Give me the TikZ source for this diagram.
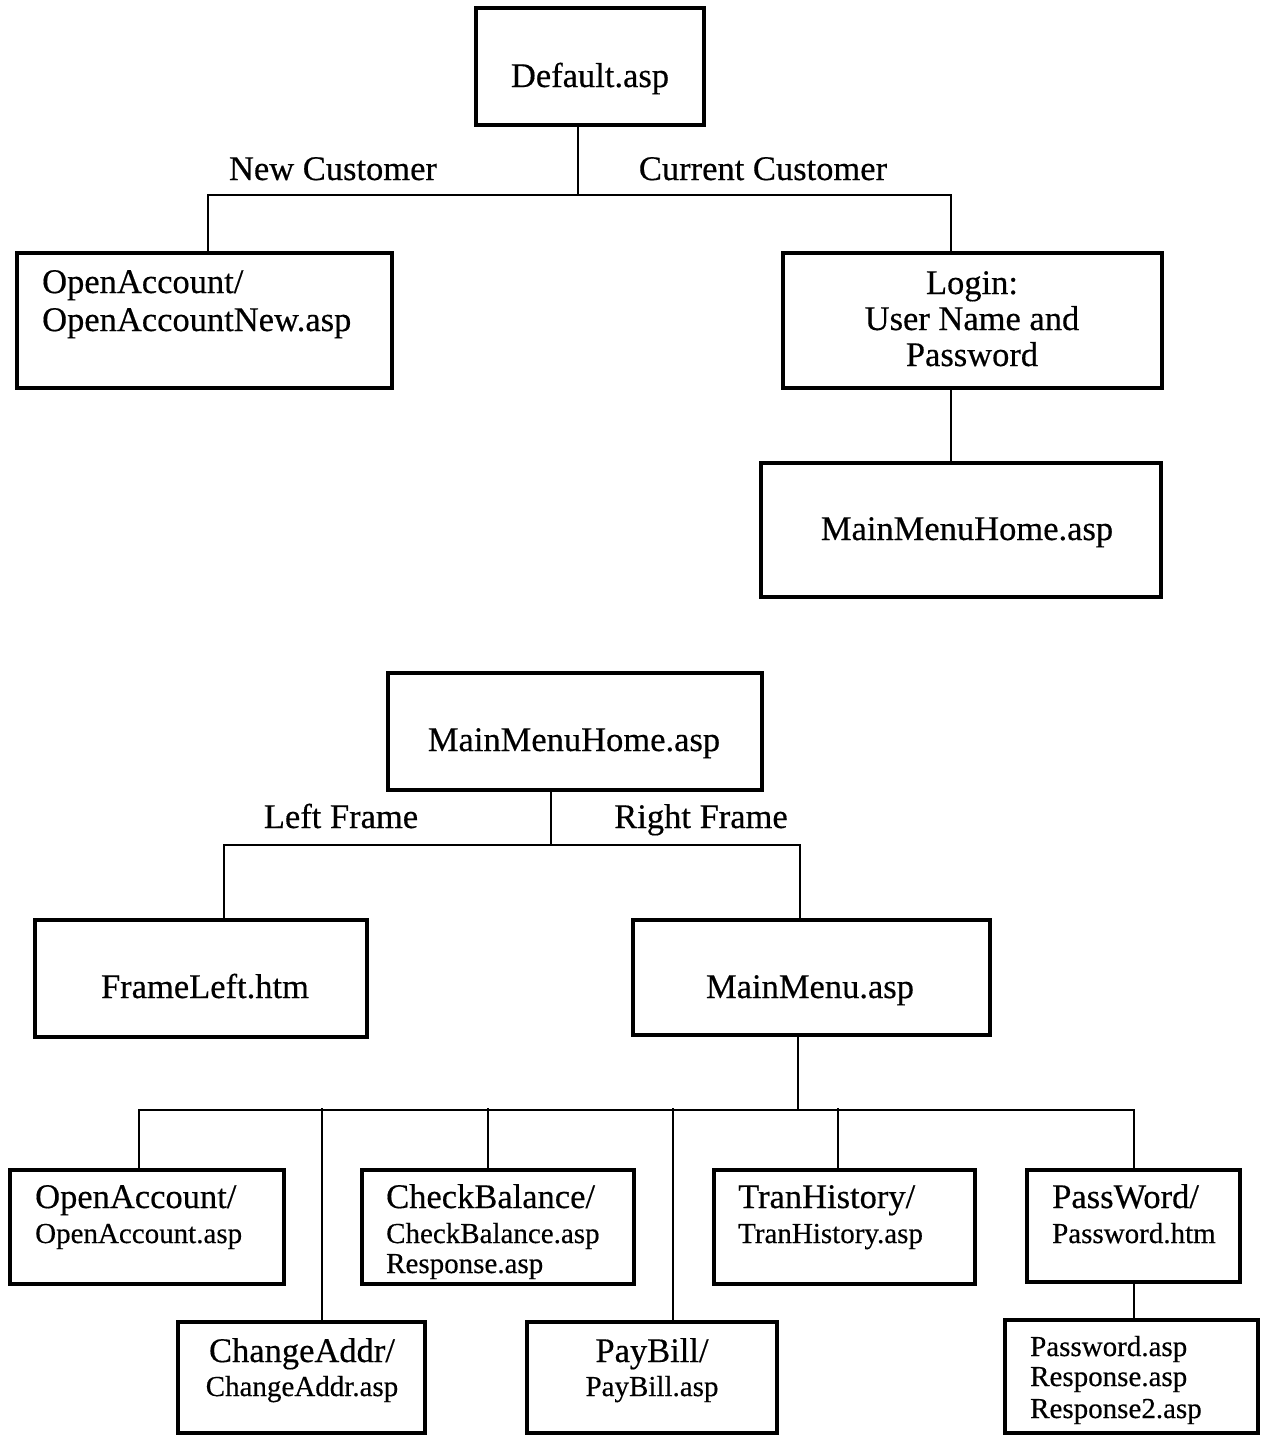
\documentclass[tikz,border=0pt]{standalone}
\usepackage{fontspec}
\setmainfont{Liberation Serif}[FakeBold=0.4]
\usetikzlibrary{calc}
\newcommand{\bx}[5]{\node[box, minimum width={(#4)-(#2)}, minimum height={(#5)-(#3)}] (#1) at ({((#2)+(#4))/2},{((#3)+(#5))/2}) {};}
\begin{document}
\begin{tikzpicture}[x=1pt,y=-1pt,
  box/.style={draw, line width=3.2pt, inner sep=0pt},
  conn/.style={line width=2.4pt},
  tl/.style={anchor=base, inner sep=0pt, font=\fontsize{34.5}{34.5}\selectfont},
  tll/.style={anchor=base west, inner sep=0pt, font=\fontsize{34.5}{34.5}\selectfont},
  tsl/.style={anchor=base west, inner sep=0pt, font=\fontsize{29}{29}\selectfont},
  tsc/.style={anchor=base, inner sep=0pt, font=\fontsize{29}{29}\selectfont}]
\useasboundingbox (0,0) rectangle (1261,1436);
% boxes
\bx{def}{476}{8}{704}{125}
\bx{oa}{17}{253}{392}{388}
\bx{login}{783}{253}{1162}{388}
\bx{mmh1}{761}{463}{1161}{597}
\bx{mmh2}{388}{673}{762}{790}
\bx{fl}{35}{920}{367}{1037}
\bx{mm}{633}{920}{990}{1035}
\bx{oa2}{10}{1170}{284}{1284}
\bx{cb}{362}{1170}{634}{1284}
\bx{th}{714}{1170}{975}{1284}
\bx{pw}{1027}{1170}{1240}{1282}
\bx{ca}{178}{1322}{425}{1433}
\bx{pb}{527}{1322}{777}{1433}
\bx{pw2}{1005}{1320}{1258}{1433}
% texts
\node[tl] (tdef) at (590,87) {Default.asp};
\node[tl] (lnew) at (333,180) {New Customer};
\node[tl] (lcur) at (763,180) {Current Customer};
\node[tll] (toa1) at (42,293) {OpenAccount/};
\node[tll] (toa2) at (42,331) {OpenAccountNew.asp};
\node[tl] (tlg1) at (972,294) {Login:};
\node[tl] (tlg2) at (972,330) {User Name and};
\node[tl] (tlg3) at (972,366) {Password};
\node[tl] (tmmh1) at (967,540) {MainMenuHome.asp};
\node[tl] (tmmh2) at (574,751) {MainMenuHome.asp};
\node[tl] (llf) at (341,828) {Left Frame};
\node[tl] (lrf) at (701,828) {Right Frame};
\node[tl] (tfl) at (205,998) {FrameLeft.htm};
\node[tl] (tmm) at (810,998) {MainMenu.asp};
\node[tll] (toa21) at (35,1208) {OpenAccount/};
\node[tsl] (toa22) at (35,1243) {OpenAccount.asp};
\node[tll] (tcb1) at (386,1208) {CheckBalance/};
\node[tsl] (tcb2) at (386,1243) {CheckBalance.asp};
\node[tsl] (tcb3) at (386,1273) {Response.asp};
\node[tll] (tth1) at (738,1208) {TranHistory/};
\node[tsl] (tth2) at (738,1243) {TranHistory.asp};
\node[tll] (tpw1) at (1052,1208) {PassWord/};
\node[tsl] (tpw2) at (1052,1243) {Password.htm};
\node[tl] (tca1) at (302,1362) {ChangeAddr/};
\node[tsc] (tca2) at (302,1396) {ChangeAddr.asp};
\node[tl] (tpb1) at (652,1362) {PayBill/};
\node[tsc] (tpb2) at (652,1396) {PayBill.asp};
\node[tsl] (tp1) at (1030,1356) {Password.asp};
\node[tsl] (tp2) at (1030,1386) {Response.asp};
\node[tsl] (tp3) at (1030,1418) {Response2.asp};
% connectors, top tree
\coordinate (b1) at (578,195);
\draw[conn] (def.south) ++(-12,0) -- (b1);
\draw[conn] (login.north) ++(-21.5,0) |- (b1) -| ($(oa.north)+(3.5,0)$);
\draw[conn] (login.south) ++(-21.5,0) -- ($(mmh1.north)+(-10,0)$);
% second tree
\coordinate (b2) at (551,845);
\draw[conn] (mmh2.south) ++(-24,0) -- (b2);
\draw[conn] (mm.north) ++(-11.5,0) |- (b2) -| ($(fl.north)+(23,0)$);
% third tree
\coordinate (b3) at (798,1110);
\draw[conn] (mm.south) ++(-13.5,0) -- (b3);
\draw[conn] (oa2.north) ++(-8,0) |- (b3);
\draw[conn] (pw.north) ++(0.5,0) |- (b3);
\draw[conn] (ca.north) ++(20.5,0) -- ++(0,-212);
\draw[conn] (cb.north) ++(-10,0) -- ++(0,-60);
\draw[conn] (pb.north) ++(21,0) -- ++(0,-212);
\draw[conn] (th.north) ++(-6.5,0) -- ++(0,-60);
\draw[conn] (pw.south) ++(0.5,0) -- ($(pw2.north)+(2.5,0)$);
\end{tikzpicture}
\end{document}
